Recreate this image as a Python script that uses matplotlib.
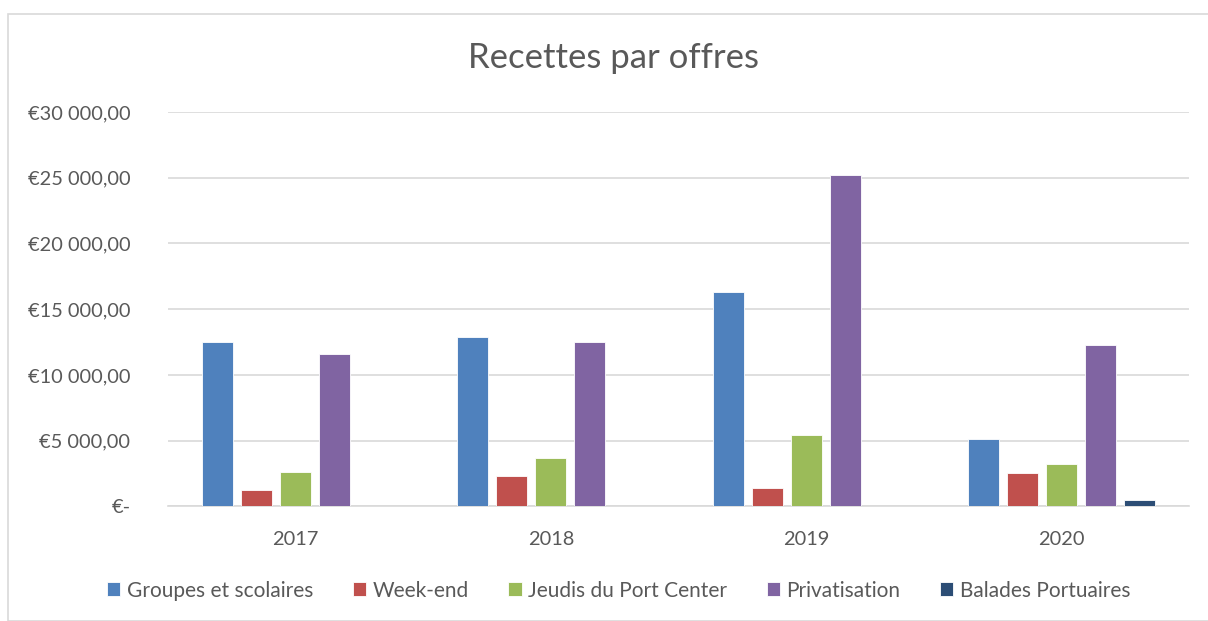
import numpy as np
import matplotlib
matplotlib.use("Agg")
import matplotlib.pyplot as plt
from matplotlib.ticker import FuncFormatter, MultipleLocator
from matplotlib.patches import Rectangle

# ================= données =================
annees = ["2017", "2018", "2019", "2020"]
series = ["Groupes et scolaires", "Week-end", "Jeudis du Port Center",
          "Privatisation", "Balades Portuaires"]
groupes = [12500, 12860, 16310, 5100]
week_end = [1260, 2280, 1370, 2510]
jeudis = [2610, 3650, 5430, 3220]
privatisation = [11570, 12480, 25210, 12250]
balades = [0, 0, 0, 480]
couleurs = ["#4F81BD", "#C0504D", "#9BBB59", "#8064A2", "#2C4D75"]

GRIS = "#595959"
plt.rcParams["font.family"] = ["Lato", "DejaVu Sans"]


def euro(v, pos):
    if v == 0:
        return "€-"
    return "€" + f"{v:,.2f}".replace(",", " ").replace(".", ",")


fig = plt.figure(figsize=(12.08, 6.21), dpi=100)
ax = fig.add_axes([0.139, 0.1847, 0.8454, 0.6349])

valeurs = [groupes, week_end, jeudis, privatisation, balades]
x = np.arange(len(annees))
pas = 0.153
largeur = 0.1216
for i, (nom, vals) in enumerate(zip(series, valeurs)):
    ax.bar(x + (i - 2) * pas, vals, width=largeur, color=couleurs[i],
           edgecolor="white", linewidth=0.6, label=nom, zorder=3)

ax.set_xlim(-0.5, len(annees) - 0.5)
ax.set_ylim(0, 30000)
ax.yaxis.set_major_locator(MultipleLocator(5000))
ax.yaxis.set_major_formatter(FuncFormatter(euro))
ax.set_xticks(x)
ax.set_xticklabels(annees)
ax.grid(axis="y", color="#D9D9D9", linewidth=1.2, zorder=0)
for s in ["top", "right", "left"]:
    ax.spines[s].set_visible(False)
ax.spines["bottom"].set_color("#D9D9D9")
ax.spines["bottom"].set_linewidth(1.2)
ax.tick_params(axis="both", length=0, labelsize=14.4, labelcolor=GRIS)
ax.tick_params(axis="y", pad=27)
ax.tick_params(axis="x", pad=18)

fig.text(0.508, 1 - 58 / 621, "Recettes par offres", ha="center", va="center",
         fontsize=25, color=GRIS)

fig.legend(loc="center", bbox_to_anchor=(0.512, 0.049), ncol=5, frameon=False,
           fontsize=15, labelcolor=GRIS, handlelength=0.65, handleheight=0.65,
           handletextpad=0.3, columnspacing=1.9)

# cadre du graphique
fig.patches.append(Rectangle((8 / 1208, 0), 1.2, 1 - 14 / 621, transform=fig.transFigure,
                             fill=False, edgecolor="#D9D9D9", linewidth=1.2))

fig.savefig("out.png", dpi=100)
